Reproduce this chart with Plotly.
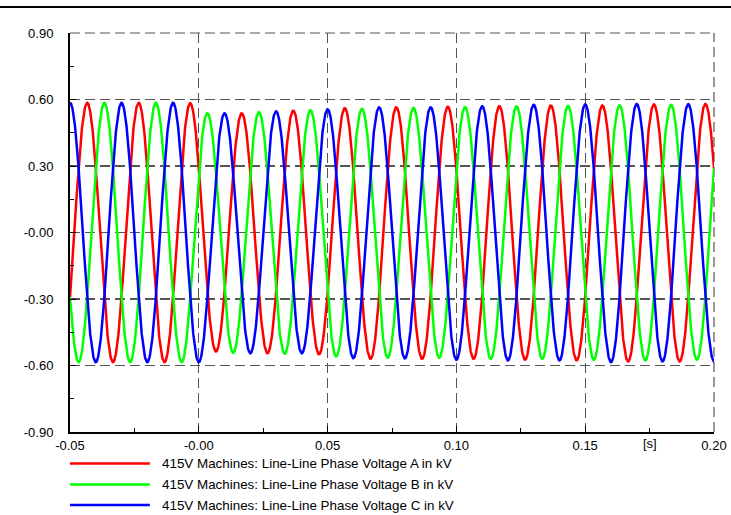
import numpy as np
import plotly.graph_objects as go

# ---------------- data ----------------
FREQ_HZ = 50.0
HALF_PERIOD = 0.01
T_START, T_END = -0.05, 0.20
Y_MIN, Y_MAX = -0.9, 0.9

series_names = [
    "415V Machines: Line-Line Phase Voltage A in kV",
    "415V Machines: Line-Line Phase Voltage B in kV",
    "415V Machines: Line-Line Phase Voltage C in kV",
]
series_colors = ["#ff0000", "#00ff00", "#0000ff"]

# time of the first extreme (peak/trough) of each phase and its polarity
first_extreme_t = [-0.053333, -0.046667, -0.05]
first_extreme_sign = [-1, -1, 1]

# magnitudes [kV] of successive extremes (one per half cycle)
red_extremes = [0.585, 0.585, 0.585, 0.585, 0.585, 0.583, 0.537, 0.538, 0.545,
                0.550, 0.550, 0.561, 0.570, 0.565, 0.570, 0.568, 0.570, 0.570,
                0.574, 0.573, 0.577, 0.573, 0.582, 0.578, 0.582, 0.580, 0.582]
green_extremes = [0.585, 0.585, 0.585, 0.585, 0.585, 0.538, 0.543, 0.543, 0.547,
                  0.552, 0.559, 0.558, 0.565, 0.562, 0.565, 0.566, 0.570, 0.569,
                  0.570, 0.571, 0.574, 0.574, 0.577, 0.576, 0.574, 0.578]
blue_extremes = [0.585, 0.585, 0.585, 0.585, 0.585, 0.585, 0.538, 0.545, 0.547,
                 0.545, 0.556, 0.567, 0.565, 0.568, 0.565, 0.574, 0.570, 0.577,
                 0.576, 0.577, 0.578, 0.585, 0.580, 0.582, 0.579, 0.582]

x_tickvals = [-0.05, 0.0, 0.05, 0.10, 0.15, 0.20]
x_ticktext = ["-0.05", "-0.00", "0.05", "0.10", "0.15", "0.20"]
x_minor = [-0.025, 0.025, 0.075, 0.125, 0.175]
y_tickvals = [0.9, 0.6, 0.3, 0.0, -0.3, -0.6, -0.9]
y_ticktext = ["0.90", "0.60", "0.30", "-0.00", "-0.30", "-0.60", "-0.90"]
y_minor = [0.75, 0.45, 0.15, -0.15, -0.45, -0.75]

# ---------------- build waveforms ----------------
t = np.linspace(T_START, T_END, 2501)


def waveform(t0, s0, amps):
    amps = np.asarray(amps)
    k = np.clip(np.round((t - t0) / HALF_PERIOD).astype(int), 0, len(amps) - 1)
    tk = t0 + k * HALF_PERIOD
    sign = s0 * np.where(k % 2 == 0, 1, -1)
    return sign * amps[k] * np.cos(2 * np.pi * FREQ_HZ * (t - tk))


all_extremes = [red_extremes, green_extremes, blue_extremes]

fig = go.Figure()
for name, col, t0, s0, ex in zip(series_names, series_colors, first_extreme_t,
                                 first_extreme_sign, all_extremes):
    fig.add_trace(go.Scatter(x=t, y=waveform(t0, s0, ex), mode="lines", name=name,
                             line=dict(color=col, width=2.5), showlegend=False,
                             hoverinfo="skip", cliponaxis=True))

FONT = "Liberation Sans, Arial, sans-serif"
FS = 13
GRID_COLOR = "#555555"
GRID_DASH = "10px,5px"
GRID = dict(showgrid=True, gridcolor=GRID_COLOR, gridwidth=1.2, griddash=GRID_DASH)

fig.update_layout(
    width=731, height=515,
    margin=dict(l=70, r=17, t=33, b=83, autoexpand=False),
    plot_bgcolor="white", paper_bgcolor="white",
    font=dict(family=FONT, size=FS, color="black"),
    showlegend=False, dragmode=False, hovermode=False,
)
fig.update_xaxes(range=[T_START, T_END], tickvals=x_tickvals, ticktext=x_ticktext,
                 automargin=False,
                 showline=True, linecolor="black", linewidth=2, zeroline=False,
                 ticks="inside", ticklen=6, tickcolor="black", tickwidth=1,
                 ticklabelstandoff=0,
                 minor=dict(tickvals=x_minor, ticks="inside", ticklen=4,
                            tickcolor="black", showgrid=False),
                 **GRID)
fig.update_yaxes(range=[Y_MIN, Y_MAX], tickvals=y_tickvals, ticktext=y_ticktext,
                 automargin=False,
                 showline=True, linecolor="black", linewidth=2, zeroline=False,
                 ticks="inside", ticklen=6, tickcolor="black", tickwidth=1,
                 ticklabelstandoff=12,
                 minor=dict(tickvals=y_minor, ticks="inside", ticklen=4,
                            tickcolor="black", showgrid=False),
                 **GRID)

# dashed frame lines at the top and right edges of the plot area
fig.add_shape(type="line", xref="paper", yref="paper", x0=0, x1=1, y0=1, y1=1,
              line=dict(color=GRID_COLOR, width=1.2, dash=GRID_DASH), layer="below")
fig.add_shape(type="line", xref="paper", yref="paper", x0=1, x1=1, y0=0, y1=1,
              line=dict(color=GRID_COLOR, width=1.2, dash=GRID_DASH), layer="below")

# top frame line of the page
fig.add_shape(type="line", xref="paper", yref="paper", x0=-70 / 644, x1=661 / 644,
              y0=1 + 26 / 399, y1=1 + 26 / 399, line=dict(color="black", width=2))

# axis unit label
fig.add_annotation(x=0.9006, y=-0.0276, xref="paper", yref="paper", text="[s]",
                   showarrow=False, xanchor="center", yanchor="middle",
                   font=dict(family=FONT, size=FS, color="black"))

# legend drawn below the plot
legend_rows_y = [-0.0789, -0.1316, -0.1830]
for name, col, ly in zip(series_names, series_colors, legend_rows_y):
    fig.add_shape(type="line", xref="paper", yref="paper", x0=0.0, x1=0.124,
                  y0=ly, y1=ly, line=dict(color=col, width=2.5))
    fig.add_annotation(x=0.1398, y=ly, xref="paper", yref="paper", text=name,
                       showarrow=False, xanchor="left", yanchor="middle",
                       font=dict(family=FONT, size=13.4, color="black"))

fig.write_html("out.html", config={"displayModeBar": False, "staticPlot": True},
               post_script="document.body.style.margin='0';")
